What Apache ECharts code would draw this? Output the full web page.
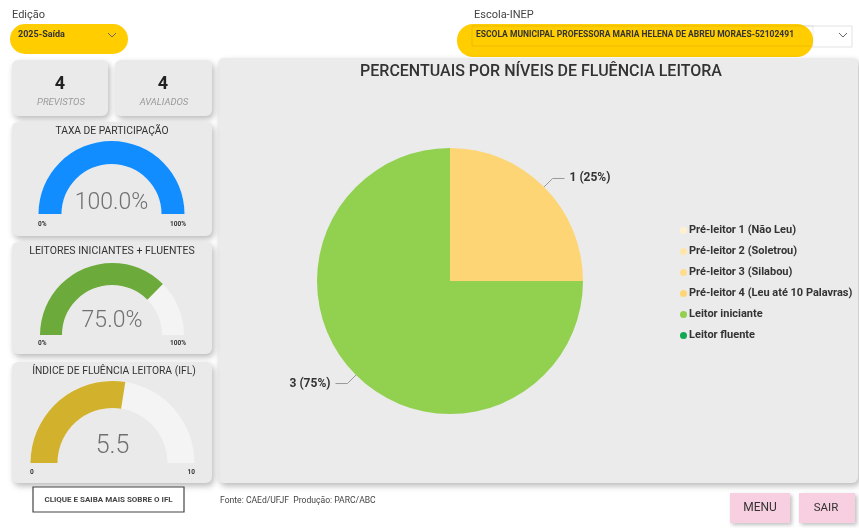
<!DOCTYPE html>
<html><head><meta charset="utf-8">
<script src="https://cdn.jsdelivr.net/npm/echarts@6/dist/echarts.min.js"></script>
<style>html,body{margin:0;padding:0;background:#fff}#c{width:859px;height:528px}</style>
</head><body><div id="c"></div>
<script>
// ---- data ----
const edicao = '2025-Saída';
const escola = 'ESCOLA MUNICIPAL PROFESSORA MARIA HELENA DE ABREU MORAES-52102491';
const previstos = 4;
const avaliados = 4;
const taxaParticipacao = 100.0;
const leitoresIniciantesFluentes = 75.0;
const indiceFluencia = 5.5;
const levels = ['Pré-leitor 1 (Não Leu)', 'Pré-leitor 2 (Soletrou)', 'Pré-leitor 3 (Silabou)', 'Pré-leitor 4 (Leu até 10 Palavras)', 'Leitor iniciante', 'Leitor fluente'];
const counts = [0, 0, 0, 1, 3, 0];
const pctRangeLabels = ['0%', '100%'];
const iflRangeLabels = ['0', '10'];

// ---- styling ----
const FONT = 'Roboto';
const levelColors = ['#FFF1D0', '#FFE6A8', '#FFDD8C', '#FDD575', '#92D050', '#10A855'];
const yellow = '#FFCD00';

function card(x, y, w, h, fill) {
  return { type: 'rect', shape: { x, y, width: w, height: h, r: 6 },
    style: { fill: fill || '#EAEAEA', shadowBlur: 6, shadowOffsetX: 2, shadowOffsetY: 3, shadowColor: 'rgba(0,0,0,0.28)' } };
}
function txt(x, y, text, size, opts) {
  opts = opts || {};
  return { type: 'text', x, y, style: Object.assign({ text, fontFamily: FONT, fontSize: size, fill: '#333',
    textAlign: 'left', textVerticalAlign: 'middle' }, opts) };
}
function chevron(x, y) {
  return { type: 'polyline', shape: { points: [[x - 4, y - 2], [x, y + 2], [x + 4, y - 2]] }, style: { stroke: '#666', lineWidth: 1, fill: null } };
}
const fmtPct = v => v.toFixed(1) + '%';
const fmtNum = v => v.toFixed(1);

function gauge(center, radius, width, max, value, color, offsetY, fmt, size) {
  return {
    type: 'gauge', center, radius, startAngle: 180, endAngle: 0, min: 0, max,
    axisLine: { lineStyle: { width, color: [[1, '#F4F4F4']] } },
    progress: { show: true, width, itemStyle: { color } },
    pointer: { show: false }, anchor: { show: false }, axisTick: { show: false },
    splitLine: { show: false }, axisLabel: { show: false }, title: { show: false },
    detail: { offsetCenter: [0, offsetY], formatter: fmt, fontFamily: FONT, fontWeight: 300, fontSize: size, color: '#707070' },
    data: [{ value }], silent: true
  };
}

const chart = echarts.init(document.getElementById('c'));
const graphics = [
  // header
  txt(12, 15, 'Edição', 11, { fill: '#444' }),
  { type: 'rect', shape: { x: 10, y: 24, width: 118, height: 30, r: 15 }, style: { fill: yellow } },
  txt(18, 35, edicao, 9, { fontWeight: 'bold', fill: '#333' }),
  chevron(112, 35),
  txt(474, 15, 'Escola-INEP', 11, { fill: '#444' }),
  { type: 'rect', shape: { x: 472, y: 26, width: 380, height: 21 }, style: { fill: '#fff', stroke: '#E2E2E2' } },
  { type: 'rect', shape: { x: 457, y: 24, width: 356, height: 33, r: 16 }, style: { fill: yellow } },
  { type: 'rect', shape: { x: 472, y: 26, width: 341, height: 20 }, style: { fill: null, stroke: 'rgba(0,0,0,0.07)' } },
  txt(476, 35, escola, 8.5, { fontWeight: 'bold', fill: '#333' }),
  chevron(843, 35),
  // main panel
  card(218, 58, 640, 425, '#EBEBEB'),
  txt(541, 72, 'PERCENTUAIS POR NÍVEIS DE FLUÊNCIA LEITORA', 16, { textAlign: 'center', fontWeight: 500, fill: '#333' }),
  // KPI cards
  card(12, 60, 96, 56), card(115, 60, 97, 56),
  txt(60, 84, String(previstos), 18, { textAlign: 'center', fontWeight: 'bold', fill: '#222' }),
  txt(61, 103, 'PREVISTOS', 9.5, { textAlign: 'center', fontStyle: 'italic', fill: '#9A9A9A' }),
  txt(163, 84, String(avaliados), 18, { textAlign: 'center', fontWeight: 'bold', fill: '#222' }),
  txt(164, 103, 'AVALIADOS', 9.5, { textAlign: 'center', fontStyle: 'italic', fill: '#9A9A9A' }),
  // gauge cards
  card(12, 122, 200, 114), card(12, 242, 200, 112), card(12, 362, 200, 121),
  txt(112, 131, 'TAXA DE PARTICIPAÇÃO', 10.3, { textAlign: 'center', fill: '#333' }),
  txt(112, 251, 'LEITORES INICIANTES + FLUENTES', 10.5, { textAlign: 'center', fill: '#333' }),
  txt(114, 371, 'ÍNDICE DE FLUÊNCIA LEITORA (IFL)', 10.3, { textAlign: 'center', fill: '#333' }),
  txt(38, 224, pctRangeLabels[0], 6.5, { fontWeight: 'bold' }),
  txt(186, 224, pctRangeLabels[1], 6.5, { fontWeight: 'bold', textAlign: 'right' }),
  txt(38, 343, pctRangeLabels[0], 6.5, { fontWeight: 'bold' }),
  txt(186, 343, pctRangeLabels[1], 6.5, { fontWeight: 'bold', textAlign: 'right' }),
  txt(30, 472, iflRangeLabels[0], 6.5, { fontWeight: 'bold' }),
  txt(195, 472, iflRangeLabels[1], 6.5, { fontWeight: 'bold', textAlign: 'right' }),
  // footer
  { type: 'rect', shape: { x: 33, y: 487, width: 151, height: 25 }, style: { fill: '#fff', stroke: '#444', lineWidth: 1.2 } },
  txt(108.5, 500, 'CLIQUE E SAIBA MAIS SOBRE O IFL', 8, { textAlign: 'center', fontWeight: 'bold', fill: '#444' }),
  txt(220, 501, 'Fonte: CAEd/UFJF  Produção: PARC/ABC', 8.6, { fill: '#444' }),
  { type: 'rect', shape: { x: 730, y: 493, width: 60, height: 30 }, style: { fill: '#F8CFE0', shadowBlur: 4, shadowOffsetX: 2, shadowOffsetY: 2, shadowColor: 'rgba(0,0,0,0.25)' } },
  txt(760, 508, 'MENU', 12, { textAlign: 'center', fill: '#333' }),
  { type: 'rect', shape: { x: 799, y: 493, width: 56, height: 30 }, style: { fill: '#F8CFE0', shadowBlur: 4, shadowOffsetX: 2, shadowOffsetY: 2, shadowColor: 'rgba(0,0,0,0.25)' } },
  txt(826, 508, 'SAIR', 11.5, { textAlign: 'center', fill: '#333' })
];

chart.setOption({
  animation: false,
  graphic: { elements: graphics },
  legend: {
    orient: 'vertical', left: 675, top: 220, icon: 'circle', itemWidth: 7, itemHeight: 7, itemGap: 10,
    textStyle: { fontFamily: FONT, fontSize: 11, fontWeight: 'bold', color: '#333', padding: [0, 0, 0, -3] },
    data: levels
  },
  color: levelColors,
  series: [
    gauge([111.5, 214], 73, 23, 100, taxaParticipacao, '#118DFF', -11, fmtPct, 23),
    gauge([112, 335], 72, 22, 100, leitoresIniciantesFluentes, '#6CAB3B', -14, fmtPct, 23),
    gauge([112.5, 463], 82, 27, 10, indiceFluencia, '#D2B22C', -16, fmtNum, 25),
    {
      type: 'pie', center: [450, 281], radius: 133, startAngle: 90, avoidLabelOverlap: false,
      label: { formatter: '{c} ({d}%)', fontFamily: FONT, fontSize: 12, fontWeight: 'bold', color: '#333' },
      labelLine: { length: 12, length2: 12, lineStyle: { color: '#999' } },
      data: levels.map((n, i) => ({ name: n, value: counts[i], label: { show: counts[i] > 0 }, labelLine: { show: counts[i] > 0 } }))
    }
  ]
});
</script></body></html>
